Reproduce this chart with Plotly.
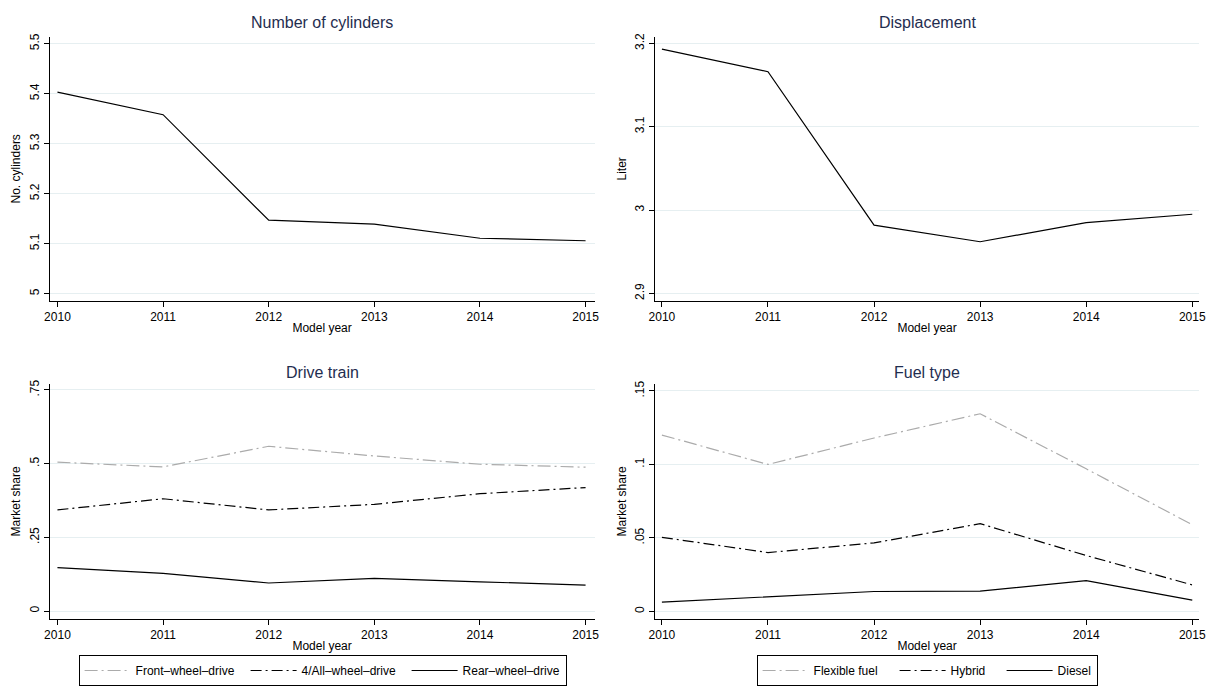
import plotly.graph_objects as go

# Model years on the horizontal axis
years = [2010, 2011, 2012, 2013, 2014, 2015]

# Average vehicle characteristics by model year
cylinders = [5.403, 5.358, 5.147, 5.139, 5.111, 5.106]
displacement = [3.193, 3.166, 2.982, 2.962, 2.985, 2.995]

# Drive train market shares
front_wheel = [0.505, 0.489, 0.559, 0.526, 0.498, 0.488]
all_wheel = [0.343, 0.381, 0.343, 0.362, 0.398, 0.419]
rear_wheel = [0.147, 0.128, 0.095, 0.111, 0.099, 0.088]

# Fuel type market shares
flex_fuel = [0.120, 0.100, 0.118, 0.1345, 0.097, 0.059]
hybrid = [0.0504, 0.040, 0.0466, 0.0597, 0.038, 0.018]
diesel = [0.0063, 0.0099, 0.0135, 0.0137, 0.0209, 0.0076]

# Axis tick positions and labels
cyl_ticks = [5.0, 5.1, 5.2, 5.3, 5.4, 5.5]
cyl_labels = ["5", "5.1", "5.2", "5.3", "5.4", "5.5"]
disp_ticks = [2.9, 3.0, 3.1, 3.2]
disp_labels = ["2.9", "3", "3.1", "3.2"]
drive_ticks = [0, 0.25, 0.5, 0.75]
drive_labels = ["0", ".25", ".5", ".75"]
fuel_ticks = [0, 0.05, 0.1, 0.15]
fuel_labels = ["0", ".05", ".1", ".15"]

FONT = "Liberation Sans, Arial, Helvetica, sans-serif"
TITLE_COLOR = "#1f2d4f"
GRID = "#e6eff1"
W, H = 1222, 686

# Panel rectangles in pixels (left, right, top, bottom)
panels = {
    1: (44, 595, 32, 299),
    2: (656, 1206, 32, 299),
    3: (44, 595, 383, 620),
    4: (656, 1206, 383, 620),
}

fig = go.Figure()

solid = dict(color="black", width=1.2)
gray_dd = dict(color="#ababab", width=1.2, dash="13px,4px,2px,4px")
black_dd = dict(color="black", width=1.2, dash="11px,4px,2px,4px")

fig.add_trace(go.Scatter(x=years, y=cylinders, mode="lines", line=solid,
                         xaxis="x", yaxis="y", showlegend=False))
fig.add_trace(go.Scatter(x=years, y=displacement, mode="lines", line=solid,
                         xaxis="x2", yaxis="y2", showlegend=False))

fig.add_trace(go.Scatter(x=years, y=front_wheel, mode="lines", line=gray_dd,
                         name="Front–wheel–drive", xaxis="x3", yaxis="y3",
                         legend="legend", legendwidth=105))
fig.add_trace(go.Scatter(x=years, y=all_wheel, mode="lines", line=black_dd,
                         name="4/All–wheel–drive", xaxis="x3", yaxis="y3",
                         legend="legend", legendwidth=100))
fig.add_trace(go.Scatter(x=years, y=rear_wheel, mode="lines", line=solid,
                         name="Rear–wheel–drive", xaxis="x3", yaxis="y3",
                         legend="legend", legendwidth=98))

fig.add_trace(go.Scatter(x=years, y=flex_fuel, mode="lines", line=gray_dd,
                         name="Flexible fuel", xaxis="x4", yaxis="y4",
                         legend="legend2", legendwidth=76))
fig.add_trace(go.Scatter(x=years, y=hybrid, mode="lines", line=black_dd,
                         name="Hybrid", xaxis="x4", yaxis="y4",
                         legend="legend2", legendwidth=46))
fig.add_trace(go.Scatter(x=years, y=diesel, mode="lines", line=solid,
                         name="Diesel", xaxis="x4", yaxis="y4",
                         legend="legend2", legendwidth=34))


def xdom(i):
    l, r, _, _ = panels[i]
    return [l / W, r / W]


def ydom(i):
    _, _, t, b = panels[i]
    return [1 - b / H, 1 - t / H]


def xaxis(i, rng):
    return dict(domain=xdom(i), range=rng, anchor="y" if i == 1 else f"y{i}",
                tickvals=years, ticktext=[str(y) for y in years],
                showline=True, linecolor="black", linewidth=1,
                ticks="outside", ticklen=5, tickcolor="black",
                showgrid=False, zeroline=False,
                tickfont=dict(family=FONT, size=12, color="black"),
                title=dict(text="Model year", standoff=0,
                           font=dict(family=FONT, size=12, color="black")))


def yaxis(i, rng, tv, tt, title):
    return dict(domain=ydom(i), range=rng, anchor="x" if i == 1 else f"x{i}",
                tickvals=tv, ticktext=tt, tickangle=-90,
                showline=True, linecolor="black", linewidth=1,
                ticks="outside", ticklen=5, tickcolor="black",
                showgrid=True, gridcolor=GRID, gridwidth=1, zeroline=False,
                tickfont=dict(family=FONT, size=12, color="black"),
                title=dict(text=title, standoff=4,
                           font=dict(family=FONT, size=12, color="black")))


legend_style = dict(orientation="h", xanchor="center", yanchor="top",
                    y=1 - 657 / H, bordercolor="black", borderwidth=1,
                    bgcolor="white", itemwidth=46, tracegroupgap=0,
                    font=dict(family=FONT, size=12, color="black"))

fig.update_layout(
    width=W, height=H,
    margin=dict(l=0, r=0, t=0, b=0),
    paper_bgcolor="white", plot_bgcolor="white",
    font=dict(family=FONT, size=12, color="black"),
    xaxis=xaxis(1, [2009.925, 2015.086]),
    xaxis2=xaxis(2, [2009.935, 2015.065]),
    xaxis3=xaxis(3, [2009.925, 2015.086]),
    xaxis4=xaxis(4, [2009.935, 2015.065]),
    yaxis=yaxis(1, [4.9856, 5.514], cyl_ticks, cyl_labels, "No. cylinders"),
    yaxis2=yaxis(2, [2.891, 3.208], disp_ticks, disp_labels, "Liter"),
    yaxis3=yaxis(3, [-0.026, 0.77], drive_ticks, drive_labels, "Market share"),
    yaxis4=yaxis(4, [-0.005, 0.1547], fuel_ticks, fuel_labels, "Market share"),
    legend=dict(legend_style, x=320 / W),
    legend2=dict(legend_style, x=931 / W),
)

# Panel titles
titles = [("Number of cylinders", 1, 18), ("Displacement", 2, 18),
          ("Drive train", 3, 371), ("Fuel type", 4, 371)]
for text, i, ypx in titles:
    l, r, _, _ = panels[i]
    fig.add_annotation(text=text, xref="paper", yref="paper",
                       x=(l + r) / 2 / W, y=1 - ypx / H,
                       xanchor="center", yanchor="middle", showarrow=False,
                       font=dict(family=FONT, size=16, color=TITLE_COLOR))

fig.write_html("out.html")
